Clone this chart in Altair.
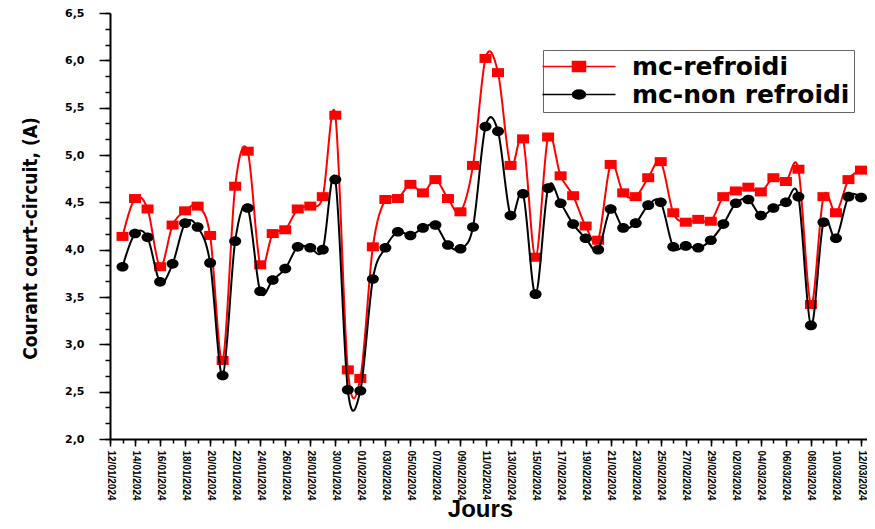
import altair as alt
import pandas as pd

# ---------------- data ----------------
dates = pd.date_range("2024-01-13", "2024-03-12", freq="D").strftime("%Y-%m-%d").tolist()

mc_refroidi = [4.14, 4.54, 4.43, 3.82, 4.26, 4.41, 4.46, 4.15, 2.83, 4.67,
               5.04, 3.84, 4.17, 4.21, 4.43, 4.46, 4.56, 5.42, 2.73, 2.64,
               4.03, 4.53, 4.54, 4.69, 4.60, 4.74, 4.54, 4.40, 4.89, 6.02,
               5.87, 4.89, 5.17, 3.92, 5.19, 4.78, 4.57, 4.25, 4.10, 4.90,
               4.60, 4.56, 4.76, 4.93, 4.39, 4.29, 4.32, 4.30, 4.56, 4.62,
               4.66, 4.61, 4.76, 4.72, 4.85, 3.42, 4.56, 4.39, 4.74, 4.84]

mc_non_refroidi = [3.82, 4.17, 4.13, 3.66, 3.85, 4.28, 4.24, 3.86, 2.67, 4.09,
                   4.44, 3.56, 3.68, 3.80, 4.03, 4.02, 4.00, 4.74, 2.52, 2.51,
                   3.69, 4.02, 4.19, 4.15, 4.23, 4.26, 4.05, 4.01, 4.24, 5.30,
                   5.25, 4.36, 4.59, 3.53, 4.65, 4.49, 4.27, 4.12, 4.00, 4.43,
                   4.23, 4.28, 4.47, 4.50, 4.03, 4.04, 4.02, 4.10, 4.27, 4.49,
                   4.53, 4.36, 4.44, 4.50, 4.56, 3.20, 4.29, 4.12, 4.56, 4.55]

series_names = ["mc-refroidi", "mc-non refroidi"]
series_colors = ["#ff0000", "#000000"]

major_x_ticks = pd.date_range("2024-01-12", "2024-03-12", freq="2D")
minor_x_ticks = pd.date_range("2024-01-12", "2024-03-12", freq="D")
major_y_ticks = [2.0, 2.5, 3.0, 3.5, 4.0, 4.5, 5.0, 5.5, 6.0, 6.5]
minor_y_ticks = [round(2.0 + k / 6, 4) for k in range(28)]

# ---------------- table ----------------
df = pd.concat([
    pd.DataFrame({"date": dates, "value": mc_refroidi, "series": series_names[0]}),
    pd.DataFrame({"date": dates, "value": mc_non_refroidi, "series": series_names[1]}),
])

def ms(ts):
    return int(ts.value // 10**6)

major_x_ms = [ms(t) for t in major_x_ticks]
minor_x_ms = [ms(t) for t in minor_x_ticks]

W, H = 757, 426
FONT = "DejaVu Sans"
ARIAL = "Liberation Sans, Arial, sans-serif"
NARROW = "Liberation Sans Narrow, DejaVu Sans Condensed, Liberation Sans, Arial, sans-serif"

x_scale = alt.Scale(type="utc",
                    domain=[alt.DateTime(year=2024, month=1, date=12, utc=True),
                            alt.DateTime(year=2024, month=3, date=12, hours=11,
                                         minutes=30, utc=True)])
y_scale = alt.Scale(domain=[2.0, 6.5], nice=False, zero=False)

x_major_axis = alt.Axis(values=major_x_ms, format="%d/%m/%Y", labelAngle=90,
                        labelFont=ARIAL, labelFontWeight="bold", labelFontSize=10,
                        labelColor="black", labelPadding=4, labelOverlap=False,
                        labelFlush=False, labelBound=False,
                        tickSize=7, tickWidth=1.5, tickColor="black",
                        domainColor="black", domainWidth=2, grid=False,
                        title="Jours", titleFont=ARIAL, titleFontSize=24,
                        titleFontWeight="bold", titleColor="black",
                        titleX=370, titleY=77, titleBaseline="alphabetic",
                        titleAlign="center", orient="bottom")
x_minor_axis = alt.Axis(values=minor_x_ms, labels=False, tickSize=4, tickWidth=1.5,
                        tickColor="black", domain=False, grid=False, title=None,
                        orient="bottom")
y_major_axis = alt.Axis(values=major_y_ticks,
                        labelExpr="replace(format(datum.value, '.1f'), '.', ',')",
                        labelFont=FONT, labelFontWeight="bold", labelFontSize=11,
                        labelColor="black", labelPadding=15,
                        tickSize=11, tickWidth=1.5, tickColor="black",
                        domainColor="black", domainWidth=2, grid=False,
                        title="Courant court-circuit, (A)",
                        titleFont=NARROW, titleFontSize=19,
                        titleFontWeight="bold", titleColor="black",
                        titleX=-80, titleY=225, titleAngle=-90,
                        titleAlign="center", titleBaseline="middle", orient="left")
y_minor_axis = alt.Axis(values=minor_y_ticks, labels=False, tickSize=5, tickWidth=1.5,
                        tickColor="black", domain=False, grid=False, title=None,
                        orient="left")

base = alt.Chart(df)

red_line = base.transform_filter(alt.datum.series == series_names[0]).mark_line(
    interpolate="cardinal", strokeWidth=2, color=series_colors[0]
).encode(
    x=alt.X("date:T", scale=x_scale, axis=x_major_axis),
    y=alt.Y("value:Q", scale=y_scale, axis=y_major_axis),
)

red_pts = base.transform_filter(alt.datum.series == series_names[0]).mark_point(
    shape="M-1,-0.75H1V0.75H-1Z", filled=True, size=144, opacity=1,
    color=series_colors[0]
).encode(
    x=alt.X("date:T", scale=x_scale, axis=x_minor_axis),
    y=alt.Y("value:Q", scale=y_scale, axis=y_minor_axis),
)

black_line = base.transform_filter(alt.datum.series == series_names[1]).mark_line(
    interpolate="cardinal", strokeWidth=2, color=series_colors[1]
).encode(
    x=alt.X("date:T", scale=x_scale, axis=None),
    y=alt.Y("value:Q", scale=y_scale, axis=None),
)

black_pts = base.transform_filter(alt.datum.series == series_names[1]).mark_point(
    shape="M-1,0A1,0.8 0 1,0 1,0A1,0.8 0 1,0 -1,0Z", filled=True, size=144,
    opacity=1, color=series_colors[1]
).encode(
    x=alt.X("date:T", scale=x_scale, axis=None),
    y=alt.Y("value:Q", scale=y_scale, axis=None),
)

legend_paths = [
    "M-2.43,0H8.0M1.85,-0.7H3.71V0.7H1.85Z",
    "M-2.43,0H8.0M1.85,0A0.93,0.64 0 1,0 3.71,0A0.93,0.64 0 1,0 1.85,0Z",
]

def make_legend():
    return alt.Legend(title=None, orient="none", legendX=433, legendY=37,
                      direction="vertical", symbolSize=196, symbolStrokeWidth=1.5,
                      labelFont=FONT, labelFontWeight="bold", labelFontSize=25,
                      labelColor="black", labelOffset=60, labelLimit=500,
                      padding=4, rowPadding=2, strokeColor="#666666")

legend_layer = base.transform_filter("false").mark_point(
    filled=True, opacity=1, strokeWidth=1.5
).encode(
    fill=alt.Fill("series:N", scale=alt.Scale(domain=series_names, range=series_colors),
                  legend=make_legend()),
    stroke=alt.Stroke("series:N", scale=alt.Scale(domain=series_names, range=series_colors),
                      legend=make_legend()),
    shape=alt.Shape("series:N", scale=alt.Scale(domain=series_names, range=legend_paths),
                    legend=make_legend()),
)

chart = alt.layer(red_line, red_pts, black_line, black_pts, legend_layer).resolve_axis(
    x="independent", y="independent"
).properties(
    width=W, height=H,
    autosize=alt.AutoSizeParams(type="none"),
    padding={"left": 102, "top": 5, "right": 0, "bottom": 82},
).configure_view(stroke=None)

chart.save("out.html", embed_options={"renderer": "svg", "actions": False})
